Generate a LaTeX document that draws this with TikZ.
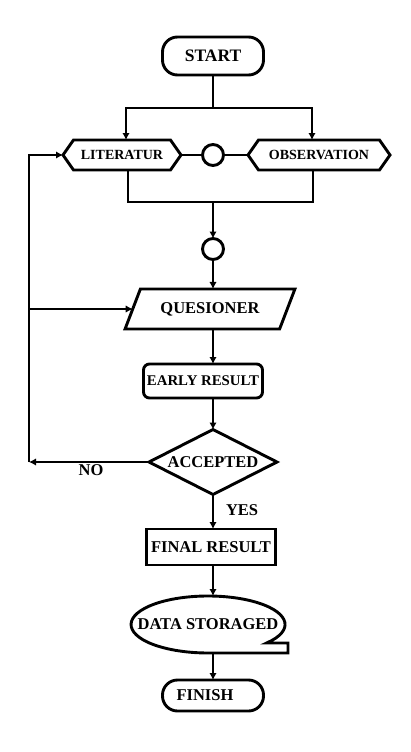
\documentclass[tikz,border=0pt]{standalone}
\usepackage{fontspec}
\setmainfont{Liberation Serif}
\usetikzlibrary{shapes.geometric,shapes.symbols,arrows.meta}
\begin{document}
\begin{tikzpicture}[x=1pt,y=-1pt,
  every node/.style={font=\bfseries\fontsize{16.5}{18}\selectfont, inner sep=0pt, outer sep=0pt},
  lw/.style={line width=2.9pt},
  arr/.style={line width=2.9pt, -{Latex[length=7pt,width=7.5pt]}},
  terminal/.style={draw, lw, rectangle, rounded corners=15pt, minimum width=101pt, minimum height=38pt},
  hexbox/.style={draw, lw, signal, signal to=west and east, signal pointer angle=110, minimum height=30pt, font=\bfseries\fontsize{14}{15}\selectfont},
  joint/.style={draw, lw, circle, minimum size=21pt},
  iobox/.style={draw, lw, trapezium, trapezium left angle=51.3, trapezium right angle=128.7, trapezium stretches=true, minimum width=170pt, minimum height=40pt},
  procbox/.style={draw, lw, rectangle, minimum height=35pt},
  decision/.style={draw, lw, diamond, aspect=1.97, minimum width=128pt, minimum height=65pt},
  lab/.style={font=\bfseries\fontsize{16.5}{18}\selectfont}
]
\useasboundingbox (0,0) rectangle (411,752);

\node[terminal] (start) at (213,56) {\fontsize{17.5}{19}\selectfont START};
\coordinate (j1) at (213,108);
\node[hexbox, minimum width=118pt] (lit) at (122,155) {LITERATUR};
\node[joint] (c1) at (213,155) {};
\node[hexbox, minimum width=142pt] (obs) at (319,155) {OBSERVATION};
\coordinate (j2) at (213,202);
\node[joint] (c2) at (213,249) {};
\node[iobox] (ques) at (210,309) {QUESIONER};
\node[procbox, rounded corners=6pt, minimum width=119pt, minimum height=34pt, font=\bfseries\fontsize{14.8}{16}\selectfont] (early) at (203,381) {EARLY RESULT};
\node[decision] (acc) at (213,462) {ACCEPTED};
\node[procbox, minimum width=129pt, minimum height=36pt] (final) at (211,547) {FINAL RESULT};
\node[ellipse, minimum width=154pt, minimum height=57pt] (data) at (208,624.5) {DATA STORAGED};
\draw[lw] (266.6,643) arc[start angle=-40.5, end angle=270, x radius=77pt, y radius=28.5pt] -- (288,653) -- (288,643) -- cycle;
\node[terminal, minimum height=31pt] (fin) at (213,695.5) {FINISH\hspace*{16pt}};
\coordinate (lp) at (29,462);
\coordinate (lq) at (29,309);

\draw[lw] (start.south) -- (j1);
\draw[arr] (j1) -| ([xshift=4pt]lit.north);
\draw[arr] (j1) -| ([xshift=-7pt]obs.north);
\draw[lw] (lit.east) -- (c1.west);
\draw[lw] (c1.east) -- (obs.west);
\draw[lw] ([xshift=6pt]lit.south) |- (j2) -| ([xshift=-6pt]obs.south);
\draw[arr] (j2) -- (c2.north);
\draw[arr] (c2.south) -- (c2.south |- ques.north);
\draw[arr] (start.south |- ques.south) -- (start.south |- early.north);
\draw[arr] (start.south |- early.south) -- (acc.north);
\draw[arr] (acc.south) -- node[lab, right, xshift=13pt, yshift=2pt] {YES} (acc.south |- final.north);
\draw[arr] (acc.south |- final.south) -- (acc.south |- data.north);
\draw[arr] (acc.south |- data.south) -- (fin.north);
\draw[arr] (acc.west) -- node[lab, below, yshift=-3pt, xshift=2pt] {NO} (lp);
\draw[arr] (lp) |- (lit.west);
\draw[arr] (lq) -- (lq -| ques.west);
\end{tikzpicture}
\end{document}
